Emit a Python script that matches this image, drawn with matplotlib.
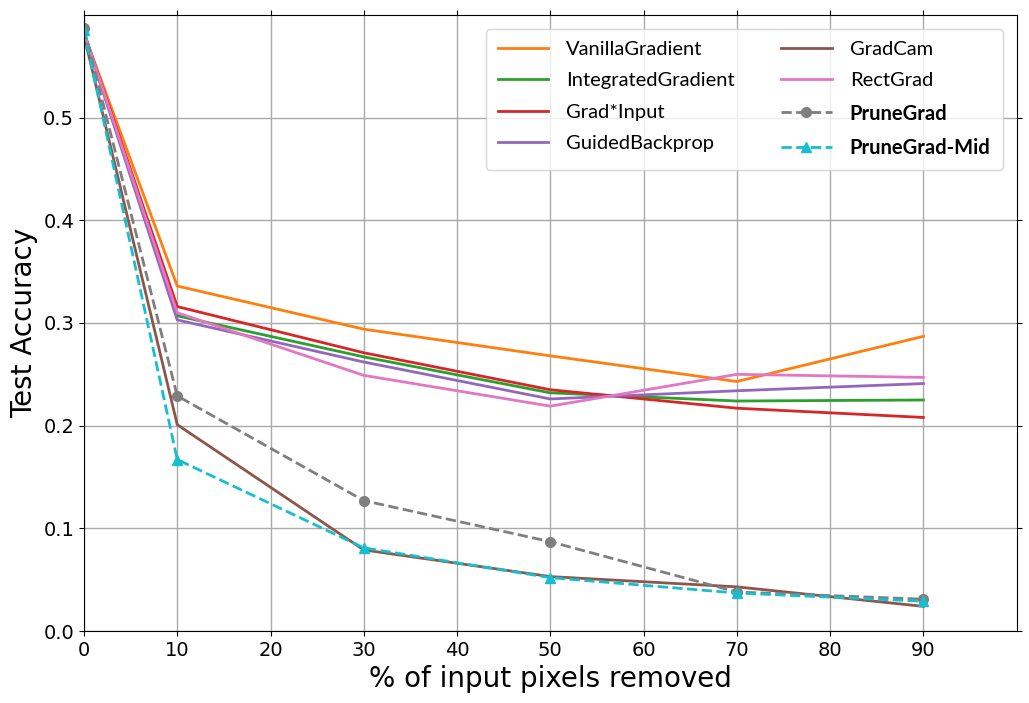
import matplotlib
matplotlib.use("Agg")
import matplotlib.pyplot as plt

x = [0, 10, 30, 50, 70, 90]
vanilla = [0.582, 0.336, 0.294, 0.268, 0.243, 0.287]
integrated = [0.583, 0.307, 0.267, 0.232, 0.224, 0.225]
grad_input = [0.583, 0.316, 0.271, 0.235, 0.217, 0.208]
guided = [0.582, 0.303, 0.262, 0.226, 0.234, 0.241]
gradcam = [0.580, 0.201, 0.079, 0.053, 0.043, 0.024]
rectgrad = [0.583, 0.310, 0.249, 0.219, 0.250, 0.247]
prunegrad = [0.587, 0.229, 0.127, 0.087, 0.038, 0.031]
prunegrad_mid = [0.585, 0.167, 0.081, 0.052, 0.037, 0.029]
xticks = list(range(0, 100, 10))

fig = plt.figure(figsize=(10.29, 7.03), dpi=100)
ax = fig.add_axes([0.0816, 0.1024, 0.9064, 0.8763])

lw = 2
ax.plot(x, vanilla, color="#ff7f0e", lw=lw, label="VanillaGradient")
ax.plot(x, integrated, color="#2ca02c", lw=lw, label="IntegratedGradient")
ax.plot(x, grad_input, color="#d62728", lw=lw, label="Grad*Input")
ax.plot(x, guided, color="#9467bd", lw=lw, label="GuidedBackprop")
ax.plot(x, gradcam, color="#8c564b", lw=lw, label="GradCam")
ax.plot(x, rectgrad, color="#e377c2", lw=lw, label="RectGrad")
ax.plot(x, prunegrad, color="#7f7f7f", lw=lw, ls="--", marker="o", ms=7, label="PruneGrad")
ax.plot(x, prunegrad_mid, color="#17becf", lw=lw, ls="--", marker="^", ms=7, label="PruneGrad-Mid")

ax.set_xlim(0, 100)
ax.set_ylim(0, 0.6)
ax.set_xticks(xticks)
ax.set_yticks([0.0, 0.1, 0.2, 0.3, 0.4, 0.5])
ax.tick_params(labelsize=14, top=True, right=True)
ax.grid(True, color="#aaaaaa", lw=1)
ax.set_xlabel("% of input pixels removed", fontsize=20)
ax.set_ylabel("Test Accuracy", fontsize=20)

leg = ax.legend(ncol=2, loc="upper right", prop={"family": "Lato", "size": 14.5},
                handlelength=2.5, handletextpad=0.9, columnspacing=2.3,
                labelspacing=0.7, borderpad=0.6, borderaxespad=0.7)
for t in leg.get_texts():
    if t.get_text().startswith("PruneGrad"):
        t.set_fontweight("bold")

fig.savefig("out.png", dpi=100)
